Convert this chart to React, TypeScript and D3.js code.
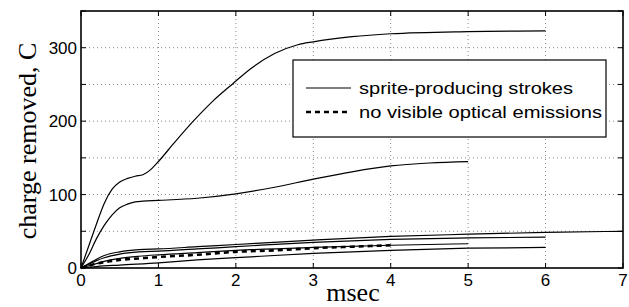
import React from 'react'
import * as d3 from 'd3'

// time in msec, charge in C
const spriteA = [[0, 0], [0.1, 30], [0.2, 60], [0.3, 88], [0.4, 107], [0.5, 117], [0.6, 122], [0.7, 125], [0.8, 127], [0.9, 134], [1.0, 145], [1.2, 170], [1.45, 200], [1.7, 227], [1.95, 250], [2.2, 272], [2.5, 292], [2.8, 304], [3.0, 308], [3.5, 315], [4, 319], [5, 322], [6, 323]]
const spriteB = [[0, 0], [0.1, 18], [0.2, 40], [0.3, 58], [0.4, 72], [0.5, 82], [0.6, 87], [0.7, 90], [0.8, 91], [1.0, 92], [1.5, 95], [2, 101], [2.5, 110], [3, 121], [3.5, 131], [4, 139], [4.5, 143], [5, 145]]
const spriteC = [[0, 0], [0.1, 6], [0.2, 12], [0.3, 17], [0.5, 22], [0.75, 25], [1, 26], [1.5, 29], [2, 32], [3, 38], [4, 43], [5, 46], [6, 48.5], [7, 50]]
const spriteD = [[0, 0], [0.1, 5], [0.2, 10], [0.3, 14], [0.5, 19], [0.75, 22], [1, 23], [1.5, 26], [2, 29], [3, 35], [4, 39], [5, 41], [6, 42]]
const spriteE = [[0, 0], [0.1, 3], [0.2, 6], [0.3, 9], [0.5, 13], [0.75, 16], [1, 18], [1.5, 21], [2, 24], [3, 28], [4, 31], [5, 33]]
const spriteF = [[0, 0], [0.2, 2], [0.5, 4], [1, 7], [1.5, 11], [2, 14], [3, 20], [4, 24], [5, 27], [6, 28]]
const noEmission = [[0, 0], [0.1, 3], [0.2, 6], [0.3, 8], [0.5, 11], [0.75, 13], [1, 15], [1.5, 18], [2, 22], [2.5, 24], [3, 27], [3.5, 29], [4, 31]]

const spriteSeries = [spriteA, spriteB, spriteC, spriteD, spriteE, spriteF]
const xTicks = [0, 1, 2, 3, 4, 5, 6, 7]
const yGrid = [0, 50, 100, 150, 200, 250, 300, 350]
const yLabels = [0, 100, 200, 300]
const legendItems = ['sprite-producing strokes', 'no visible optical emissions']
const legendWidths = [214, 243]

const W = 629
const H = 307
const left = 81
const right = 623
const top = 11
const bottom = 268

export default function App() {
  const x = d3.scaleLinear().domain([0, 7]).range([left, right])
  const y = d3.scaleLinear().domain([0, 350]).range([bottom, top])
  const line = d3.line<number[]>()
    .x(d => x(d[0]))
    .y(d => y(d[1]))
    .curve(d3.curveMonotoneX)

  const sans = 'Liberation Sans, Arial, sans-serif'
  const serif = 'Liberation Serif, Times New Roman, serif'

  return (
    <svg width={W} height={H} style={{ position: 'absolute', left: 0, top: 0, background: '#fff' }}>
      <rect width={W} height={H} fill="#fff" />
      {/* grid */}
      {xTicks.slice(1, -1).map(t =>
        <line key={'gx' + t} x1={x(t)} x2={x(t)} y1={top} y2={bottom} stroke="#888" strokeWidth={1} strokeDasharray="1,3" />
      )}
      {yGrid.slice(1, -1).map(t =>
        <line key={'gy' + t} x1={left} x2={right} y1={y(t)} y2={y(t)} stroke="#888" strokeWidth={1} strokeDasharray="1,3" />
      )}
      {/* ticks on all four sides */}
      {xTicks.map(t =>
        <g key={'tx' + t}>
          <line x1={x(t)} x2={x(t)} y1={bottom} y2={bottom - 5} stroke="#000" />
          <line x1={x(t)} x2={x(t)} y1={top} y2={top + 5} stroke="#000" />
        </g>
      )}
      {yGrid.map(t =>
        <g key={'ty' + t}>
          <line x1={left} x2={left + 5} y1={y(t)} y2={y(t)} stroke="#000" />
          <line x1={right} x2={right - 5} y1={y(t)} y2={y(t)} stroke="#000" />
        </g>
      )}
      {/* curves */}
      {spriteSeries.map((s, i) =>
        <path key={'s' + i} d={line(s) || ''} fill="none" stroke="#000" strokeWidth={1.2} />
      )}
      <path d={line(noEmission) || ''} fill="none" stroke="#000" strokeWidth={2.6} strokeDasharray="5,4" />
      {/* frame */}
      <rect x={left} y={top} width={right - left} height={bottom - top} fill="none" stroke="#000" strokeWidth={1.6} />
      {/* tick labels */}
      {xTicks.map(t =>
        <text key={'lx' + t} x={x(t)} y={286} textAnchor="middle" fontFamily={sans} fontSize={17}>{t}</text>
      )}
      {yLabels.map(t =>
        <text key={'ly' + t} x={left - 4} y={y(t) + 6} textAnchor="end" fontFamily={sans} fontSize={17}>{t}</text>
      )}
      {/* axis titles */}
      <text x={(left + right) / 2 + 1} y={301} textAnchor="middle" fontFamily={serif} fontSize={26}>msec</text>
      <text transform="translate(36,141) rotate(-90)" textAnchor="middle" fontFamily={serif} fontSize={26}>charge removed, C</text>
      {/* legend */}
      <rect x={293} y={60} width={313} height={77} fill="#fff" stroke="#000" strokeWidth={1.2} />
      <line x1={306} x2={351} y1={88} y2={88} stroke="#000" strokeWidth={1.2} />
      <line x1={306} x2={351} y1={112} y2={112} stroke="#000" strokeWidth={2.6} strokeDasharray="5,4" />
      {legendItems.map((txt, i) =>
        <text key={txt} x={359} y={94 + i * 24} fontFamily={sans} fontSize={17}
          textLength={legendWidths[i]} lengthAdjust="spacingAndGlyphs">{txt}</text>
      )}
    </svg>
  )
}
